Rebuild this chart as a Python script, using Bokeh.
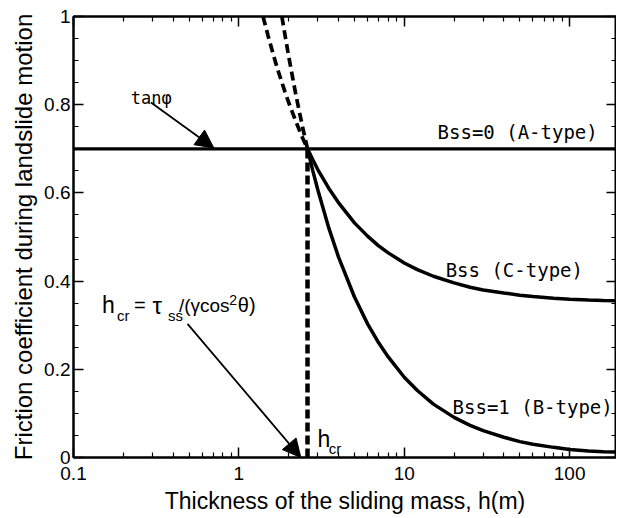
from bokeh.plotting import figure
from bokeh.models import (Range1d, LogAxis, LinearAxis, FixedTicker, Label, Arrow,
                          NormalHead, LogScale)
from bokeh.embed import file_html
from bokeh.resources import INLINE

# ---- data ----
TAN_PHI = 0.70
H_CR = 2.6

H_A = [0.1, 200]
MU_A = [0.70, 0.70]

H_B = [2.6, 2.8, 3, 3.5, 4, 5, 6, 7, 8, 10, 12, 15, 20, 25, 30, 40, 50, 60, 80, 100, 130, 160, 200]
MU_B = [0.70, 0.650, 0.607, 0.520, 0.455, 0.364, 0.303, 0.260, 0.228, 0.182, 0.152, 0.121,
        0.091, 0.073, 0.061, 0.046, 0.036, 0.030, 0.023, 0.018, 0.015, 0.013, 0.012]

H_C = [2.6, 2.8, 3, 3.5, 4, 5, 6, 7, 8, 10, 12, 15, 20, 25, 30, 40, 50, 60, 80, 100, 130, 160, 200]
MU_C = [0.70, 0.675, 0.653, 0.610, 0.578, 0.532, 0.502, 0.480, 0.464, 0.441, 0.426, 0.411,
        0.396, 0.386, 0.380, 0.373, 0.368, 0.365, 0.361, 0.359, 0.357, 0.356, 0.355]

H_B_DASH = [1.82, 1.9, 2.0, 2.1, 2.2, 2.3, 2.4, 2.5, 2.6]
MU_B_DASH = [1.0, 0.958, 0.910, 0.867, 0.827, 0.791, 0.758, 0.728, 0.70]

H_C_DASH = [1.40, 1.5, 1.6, 1.7, 1.8, 1.9, 2.0, 2.2, 2.4, 2.6]
MU_C_DASH = [1.0, 0.957, 0.919, 0.885, 0.856, 0.829, 0.805, 0.764, 0.729, 0.70]

H_VERT = [H_CR, H_CR]
MU_VERT = [0.0, TAN_PHI]

X_TICKS = [0.1, 1, 10, 100]
X_TICK_LABELS = ["0.1", "1", "10", "100"]
Y_TICKS = [0, 0.2, 0.4, 0.6, 0.8, 1.0]
Y_TICK_LABELS = ["0", "0.2", "0.4", "0.6", "0.8", "1"]

# ---- figure ----
p = figure(x_axis_type=None, y_axis_type=None,
           x_range=Range1d(0.1, 192), y_range=Range1d(0, 1),
           frame_width=543, frame_height=441,
           min_border_left=73, min_border_right=0, min_border_top=16, min_border_bottom=61,
           output_backend="svg", toolbar_location=None)
p.x_scale = LogScale()
p.background_fill_color = "white"
p.border_fill_color = "white"
p.outline_line_color = "black"
p.outline_line_width = 2

x_minor = [m * d for d in [0.1, 1, 10, 100] for m in range(2, 10)]
y_minor = [round(i * 0.05, 2) for i in range(1, 20)]
xt = FixedTicker(ticks=X_TICKS, minor_ticks=x_minor)
yt = FixedTicker(ticks=Y_TICKS, minor_ticks=y_minor)

def style(ax, show_labels, label_size="23px"):
    ax.axis_line_color = "black"
    ax.axis_line_width = 2
    ax.major_tick_in = 10
    ax.major_tick_out = 0
    ax.minor_tick_in = 5
    ax.minor_tick_out = 0
    ax.major_tick_line_width = 1.5
    ax.minor_tick_line_width = 1.2
    ax.major_tick_line_color = "black"
    ax.minor_tick_line_color = "black"
    if show_labels:
        ax.major_label_text_font = "Liberation Sans"
        ax.major_label_text_font_size = "19px"
        ax.major_label_text_color = "black"
        ax.major_label_standoff = 3
        ax.axis_label_text_font = "Liberation Sans"
        ax.axis_label_text_font_size = label_size
        ax.axis_label_text_font_style = "normal"
        ax.axis_label_text_color = "black"
        ax.axis_label_standoff = 4
    else:
        ax.major_label_text_font_size = "1px"
        ax.major_label_text_alpha = 0
        ax.major_label_standoff = 0

xb = LogAxis(ticker=xt, axis_label="Thickness of the sliding mass, h(m)",
             major_label_overrides={t: s for t, s in zip(X_TICKS, X_TICK_LABELS)})
style(xb, True, "23px")
xb.major_label_standoff = 9
xb.axis_label_standoff = 5
p.add_layout(xb, "below")
xa = LogAxis(ticker=xt)
style(xa, False)
p.add_layout(xa, "above")

yl = LinearAxis(ticker=yt, axis_label="Friction coefficient during landslide motion",
                major_label_overrides={t: s for t, s in zip(Y_TICKS, Y_TICK_LABELS)})
style(yl, True, "24px")
p.add_layout(yl, "left")
yr = LinearAxis(ticker=yt)
style(yr, False)
p.add_layout(yr, "right")

p.xgrid.ticker = FixedTicker(ticks=X_TICKS)
p.ygrid.ticker = FixedTicker(ticks=Y_TICKS)
p.grid.grid_line_color = "#8a8a8a"
p.grid.grid_line_dash = "1 6"
p.grid.grid_line_width = 1

# ---- curves ----
p.line(H_A, MU_A, line_color="black", line_width=3.2)
p.line(H_B, MU_B, line_color="black", line_width=3.5)
p.line(H_C, MU_C, line_color="black", line_width=3.5)
p.line(H_B_DASH, MU_B_DASH, line_color="black", line_width=3.7, line_dash="9 5")
p.line(H_C_DASH, MU_C_DASH, line_color="black", line_width=3.7, line_dash="9 5")
p.line(H_VERT, MU_VERT, line_color="black", line_width=4.5, line_dash="9 4")

# ---- annotations ----
mono = "DejaVu Sans Mono"
sans = "Liberation Sans"

def lab(x, y, text, font, size):
    p.add_layout(Label(x=x, y=y, text=text, text_font=font, text_font_size=size,
                       text_color="black", text_baseline="alphabetic", text_align="left"))

lab(0.222, 0.816, "tanφ", mono, "17px")
lab(15.9, 0.737, "Bss=0 (A-type)", mono, "19px")
lab(17.8, 0.425, "Bss (C-type)", mono, "19px")
lab(19.6, 0.114, "Bss=1 (B-type)", mono, "19px")

# h_cr near the vertical line
lab(2.99, 0.0425, "h", sans, "23px")
lab(3.50, 0.0205, "cr", sans, "15px")

# formula h_cr = tau_ss/(gamma cos^2 theta)
lab(0.1487, 0.3455, "h", sans, "23px")
lab(0.1832, 0.3227, "cr", sans, "15px")
lab(0.232, 0.3455, "=", sans, "20px")
lab(0.300, 0.3455, "τ", sans, "24px")
lab(0.3724, 0.3227, "ss", sans, "15px")
lab(0.434, 0.3455, "/(γcos", sans, "19px")
lab(0.875, 0.357, "2", sans, "14px")
lab(0.986, 0.3455, "θ)", sans, "20px")

p.add_layout(Arrow(end=NormalHead(size=18, fill_color="black", line_color="black"),
                   x_start=0.294, y_start=0.805, x_end=0.706, y_end=0.702,
                   line_color="black", line_width=1.8))
p.add_layout(Arrow(end=NormalHead(size=18, fill_color="black", line_color="black"),
                   x_start=0.489, y_start=0.303, x_end=2.37, y_end=0.0,
                   line_color="black", line_width=1.8))

open("out.html", "w").write(file_html(p, INLINE))
